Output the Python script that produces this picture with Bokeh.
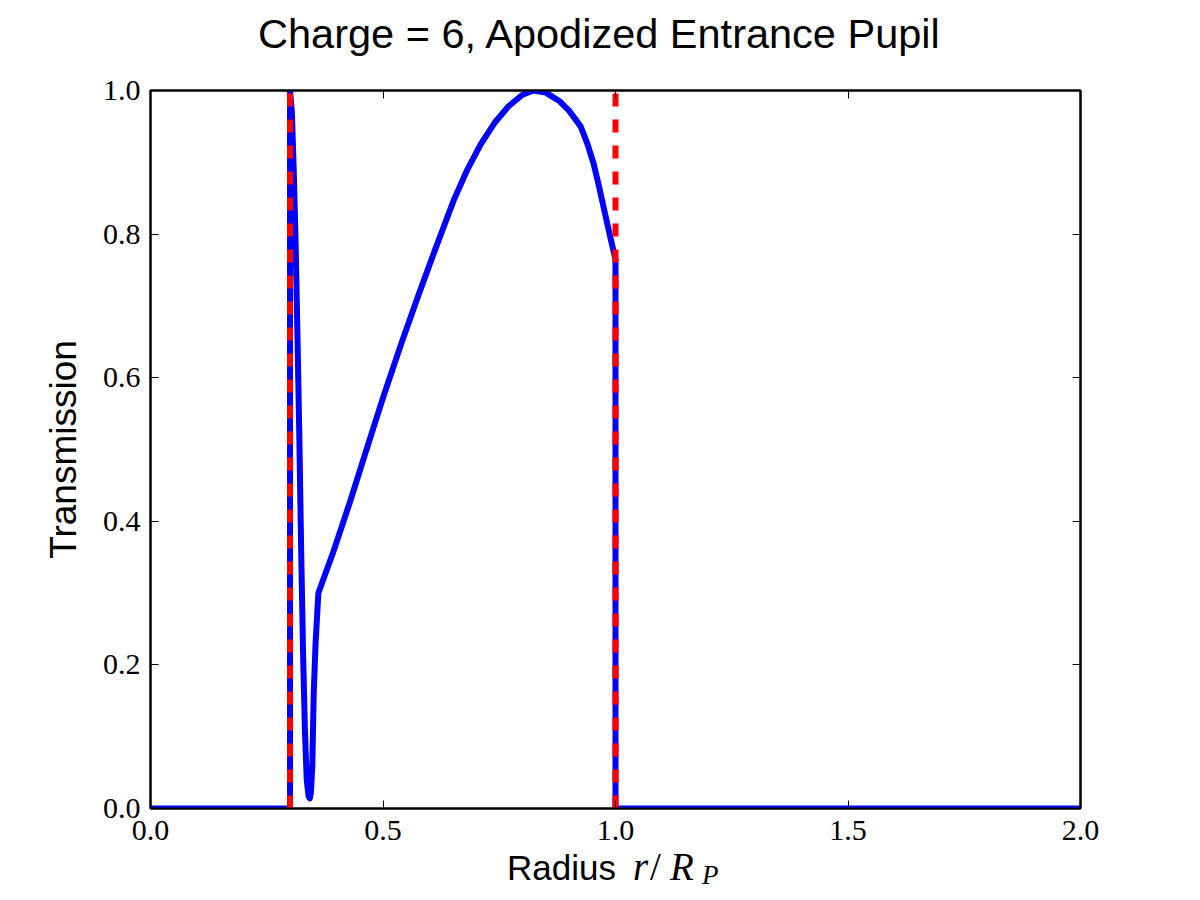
from bokeh.plotting import figure
from bokeh.models import Range1d, FixedTicker, LinearAxis, NumeralTickFormatter, Div
from bokeh.layouts import column
from bokeh.embed import file_html
from bokeh.resources import INLINE

# ---- data ----
radius = [0.0, 0.300, 0.300, 0.304, 0.308, 0.312, 0.316, 0.320, 0.324, 0.328,
          0.332, 0.336, 0.340, 0.3425, 0.345, 0.348, 0.351, 0.355, 0.361,
          0.394, 0.430, 0.466, 0.501, 0.538, 0.574, 0.609, 0.652, 0.680,
          0.710, 0.740, 0.770, 0.800, 0.824, 0.850, 0.880, 0.900, 0.925,
          0.940, 0.953, 0.965, 0.977, 0.989, 1.000, 1.000, 2.000]
transmission = [0.0, 0.0, 1.0, 0.97, 0.89, 0.79, 0.66, 0.52, 0.36, 0.22,
                0.11, 0.04, 0.017, 0.014, 0.022, 0.06, 0.16, 0.23, 0.30,
                0.359, 0.429, 0.503, 0.574, 0.645, 0.711, 0.773, 0.847, 0.888,
                0.925, 0.955, 0.978, 0.994, 1.0, 0.997, 0.985, 0.972, 0.950,
                0.925, 0.898, 0.865, 0.830, 0.795, 0.765, 0.0, 0.0]
stop_edges = [0.3, 1.0]
stop_low = [0.0, 0.0]
stop_high = [1.0, 1.0]
x_ticks = [0.0, 0.5, 1.0, 1.5, 2.0]
y_ticks = [0.0, 0.2, 0.4, 0.6, 0.8, 1.0]
title_text = "Charge = 6, Apodized Entrance Pupil"
xlabel_word = "Radius"
ylabel_text = "Transmission"

TITLE_H, XLAB_H = 60, 44
L, R, T, B = 150, 120, 30, 48
FIG_W = 1200
FIG_H = 900 - TITLE_H - XLAB_H
XMAX = 2.0

p = figure(width=FIG_W, height=FIG_H,
           min_border_left=L, min_border_right=R,
           min_border_top=T, min_border_bottom=B,
           x_range=Range1d(0, XMAX), y_range=Range1d(0, 1),
           output_backend="svg", toolbar_location=None,
           background_fill_color="white", border_fill_color="white")
p.grid.visible = False
p.outline_line_color = "black"
p.outline_line_width = 2

# extra axes on top and right (ticks only)
p.add_layout(LinearAxis(), "above")
p.add_layout(LinearAxis(), "right")

for ax in p.xaxis:
    ax.ticker = FixedTicker(ticks=x_ticks)
for ax in p.yaxis:
    ax.ticker = FixedTicker(ticks=y_ticks)

for ax in p.axis:
    ax.formatter = NumeralTickFormatter(format="0.0")
    ax.axis_line_color = "black"
    ax.axis_line_width = 2
    ax.major_tick_in = 8
    ax.major_tick_out = 0
    ax.major_tick_line_color = "black"
    ax.major_tick_line_width = 1
    ax.minor_tick_line_color = None
    ax.major_label_text_font = "Liberation Serif"
    ax.major_label_text_font_size = "30px"
    ax.major_label_text_color = "black"

for ax in (p.above[0], p.right[0]):
    ax.major_label_text_font_size = "0px"
    ax.major_label_text_color = None
    ax.major_label_standoff = 0

p.below[0].major_label_standoff = 12
p.left[0].major_label_standoff = 10
p.left[0].axis_label = ylabel_text
p.left[0].axis_label_text_font = "Liberation Sans"
p.left[0].axis_label_text_font_size = "37px"
p.left[0].axis_label_text_font_style = "normal"
p.left[0].axis_label_text_color = "black"
p.left[0].axis_label_standoff = 16

# curve and stop edges
p.line(radius, transmission, line_color="#0000ff", line_width=6, line_join="round")
p.segment(x0=stop_edges, y0=stop_low, x1=stop_edges, y1=stop_high,
          line_color="#ff0000", line_width=6, line_dash="13 13", line_cap="butt")

span = "position:absolute;white-space:nowrap;color:#000;line-height:20px;"

# title
title_html = (
    f'<div style="position:relative;width:{FIG_W}px;height:{TITLE_H}px;overflow:visible;">'
    f'<span style="{span}left:258px;top:24px;font-family:\'Liberation Sans\';font-size:41.5px;">{title_text}</span>'
    '</div>'
)
title_div = Div(text=title_html, width=FIG_W, height=TITLE_H, margin=(0, 0, 0, 0))

# x axis label "Radius r/R_P" with mixed sans / math-italic text
xlabel_html = (
    f'<div style="position:relative;width:{FIG_W}px;height:{XLAB_H}px;overflow:visible;">'
    f'<span style="{span}left:507px;top:2px;font-family:\'Liberation Sans\';font-size:35px;">{xlabel_word}</span>'
    f'<span style="{span}left:633px;top:1px;font-family:\'Liberation Serif\';font-style:italic;font-size:39px;">r</span>'
    f'<span style="{span}left:650px;top:1px;font-family:\'Liberation Serif\';font-size:39px;">/</span>'
    f'<span style="{span}left:670px;top:1px;font-family:\'Liberation Serif\';font-style:italic;font-size:39px;">R</span>'
    f'<span style="{span}left:702px;top:9px;font-family:\'Liberation Serif\';font-style:italic;font-size:27px;">P</span>'
    '</div>'
)
xlabel_div = Div(text=xlabel_html, width=FIG_W, height=XLAB_H, margin=(0, 0, 0, 0))

layout = column(title_div, p, xlabel_div, spacing=0)
open("out.html", "w").write(file_html(layout, INLINE))
